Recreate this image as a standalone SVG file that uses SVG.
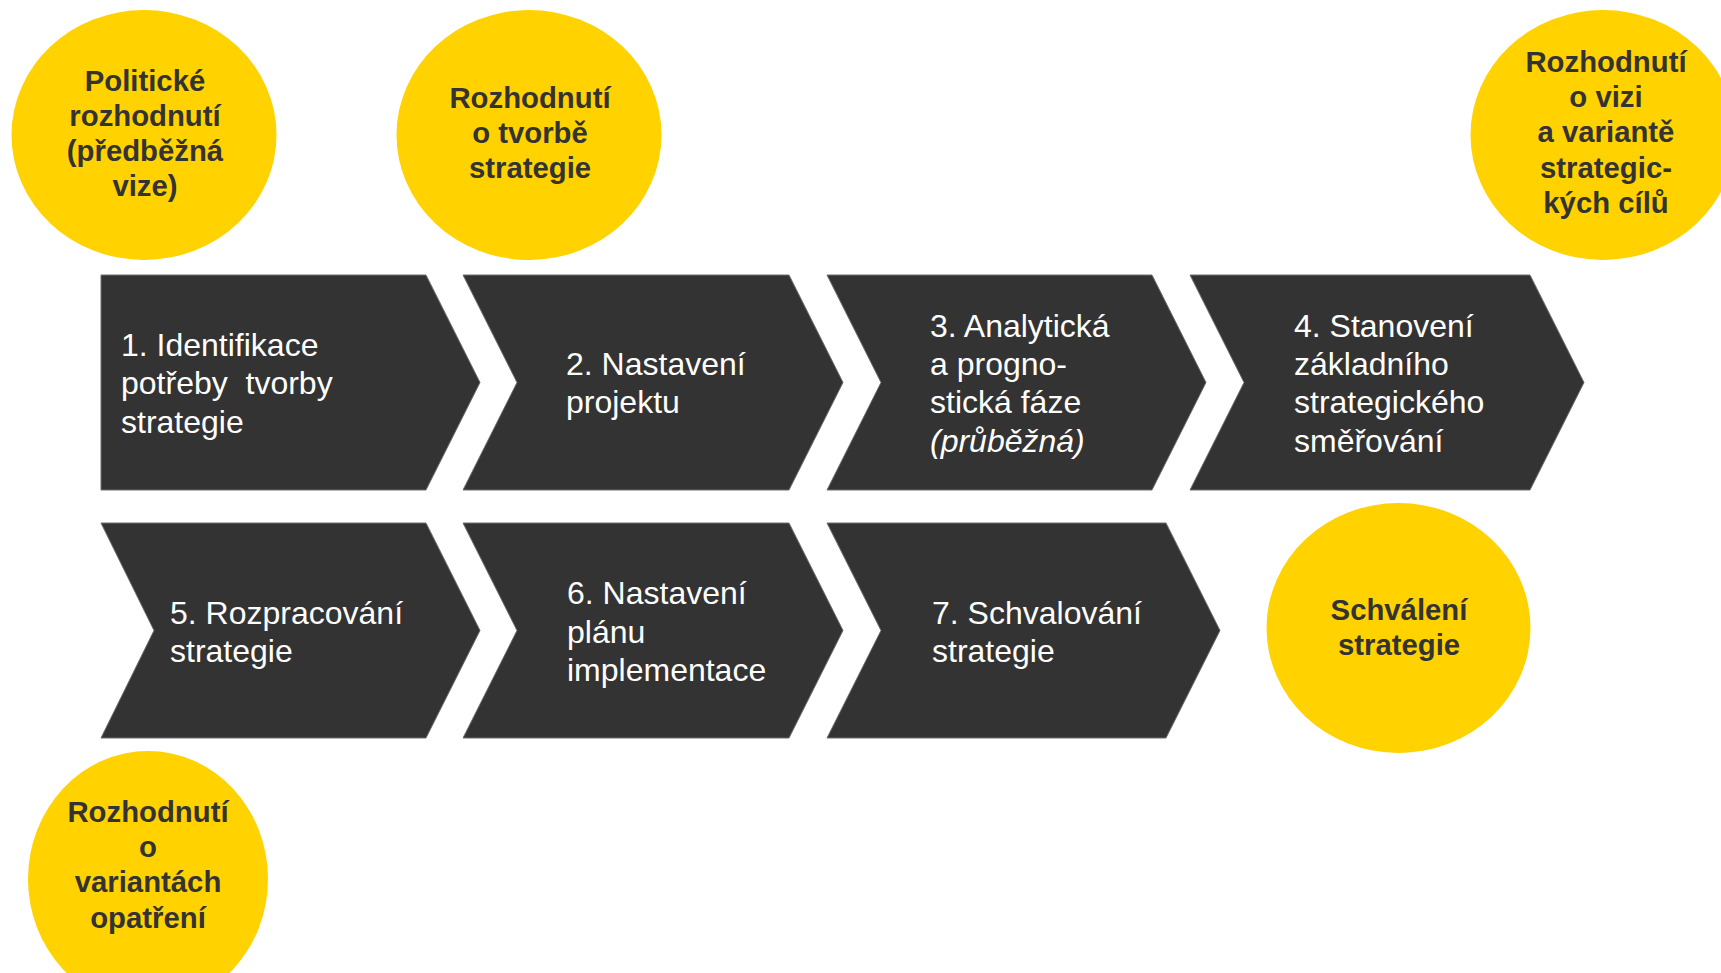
<svg xmlns="http://www.w3.org/2000/svg" width="1721" height="973" viewBox="0 0 1721 973">
<style>
.chev{fill:#333333;stroke:#6e6e6e;stroke-width:1}
.circ{fill:#FFD200}
.ct{font-family:"Liberation Sans",Arial,sans-serif;font-size:32px;fill:#ffffff}
.bt{font-family:"Liberation Sans",Arial,sans-serif;font-size:29.3px;font-weight:bold;fill:#333333;text-anchor:middle}
</style>
<rect width="1721" height="973" fill="#ffffff"/>
<g id="connectors"></g>
<g id="circle-politicke">
<ellipse class="circ" cx="144" cy="135" rx="132.5" ry="125"/>
<text class="bt"><tspan x="145" y="90.5">Politické</tspan><tspan x="145" y="125.7">rozhodnutí</tspan><tspan x="145" y="160.9">(předběžná</tspan><tspan x="145" y="196.1">vize)</tspan></text>
</g>
<g id="circle-tvorba">
<ellipse class="circ" cx="529" cy="135" rx="132.5" ry="125"/>
<text class="bt"><tspan x="530" y="108">Rozhodnutí</tspan><tspan x="530" y="143.2">o tvorbě</tspan><tspan x="530" y="178.4">strategie</tspan></text>
</g>
<g id="circle-vize">
<ellipse class="circ" cx="1603" cy="135" rx="132.5" ry="125"/>
<text class="bt"><tspan x="1606" y="72">Rozhodnutí</tspan><tspan x="1606" y="107.2">o vizi</tspan><tspan x="1606" y="142.4">a variantě</tspan><tspan x="1606" y="177.6">strategic-</tspan><tspan x="1606" y="212.8">kých cílů</tspan></text>
</g>
<g id="circle-schvaleni">
<ellipse class="circ" cx="1398.5" cy="628" rx="132" ry="125"/>
<text class="bt"><tspan x="1399" y="620">Schválení</tspan><tspan x="1399" y="655.2">strategie</tspan></text>
</g>
<g id="circle-opatreni">
<ellipse class="circ" cx="148" cy="879" rx="120" ry="128"/>
<text class="bt"><tspan x="148" y="822">Rozhodnutí</tspan><tspan x="148" y="857.2">o</tspan><tspan x="148" y="892.4">variantách</tspan><tspan x="148" y="927.6">opatření</tspan></text>
</g>
<g id="step1">
<path class="chev" d="M101,275 L426,275 L480,382.5 L426,490 L101,490 Z"/>
<text class="ct" xml:space="preserve"><tspan x="121" y="356">1. Identifikace</tspan><tspan x="121" y="394.4">potřeby  tvorby</tspan><tspan x="121" y="432.8">strategie</tspan></text>
</g>
<g id="step2">
<path class="chev" d="M463,275 L789,275 L843,382.5 L789,490 L463,490 L517,382.5 Z"/>
<text class="ct"><tspan x="566" y="375">2. Nastavení</tspan><tspan x="566" y="413.4">projektu</tspan></text>
</g>
<g id="step3">
<path class="chev" d="M827,275 L1152,275 L1206,382.5 L1152,490 L827,490 L881,382.5 Z"/>
<text class="ct"><tspan x="930" y="336.6">3. Analytická</tspan><tspan x="930" y="375">a progno-</tspan><tspan x="930" y="413.4">stická fáze</tspan><tspan x="930" y="451.8" font-style="italic">(průběžná)</tspan></text>
</g>
<g id="step4">
<path class="chev" d="M1190,275 L1530,275 L1584,382.5 L1530,490 L1190,490 L1244,382.5 Z"/>
<text class="ct"><tspan x="1294" y="336.6">4. Stanovení</tspan><tspan x="1294" y="375">základního</tspan><tspan x="1294" y="413.4">strategického</tspan><tspan x="1294" y="451.8">směřování</tspan></text>
</g>
<g id="step5">
<path class="chev" d="M101,523 L426,523 L480,630.5 L426,738 L101,738 L154,630.5 Z"/>
<text class="ct"><tspan x="170" y="624">5. Rozpracování</tspan><tspan x="170" y="662.4">strategie</tspan></text>
</g>
<g id="step6">
<path class="chev" d="M463,523 L789,523 L843,630.5 L789,738 L463,738 L517,630.5 Z"/>
<text class="ct"><tspan x="567" y="604.4">6. Nastavení</tspan><tspan x="567" y="642.8">plánu</tspan><tspan x="567" y="681.2">implementace</tspan></text>
</g>
<g id="step7">
<path class="chev" d="M827,523 L1166,523 L1220,630.5 L1166,738 L827,738 L881,630.5 Z"/>
<text class="ct"><tspan x="932" y="624">7. Schvalování</tspan><tspan x="932" y="662.4">strategie</tspan></text>
</g>
</svg>
